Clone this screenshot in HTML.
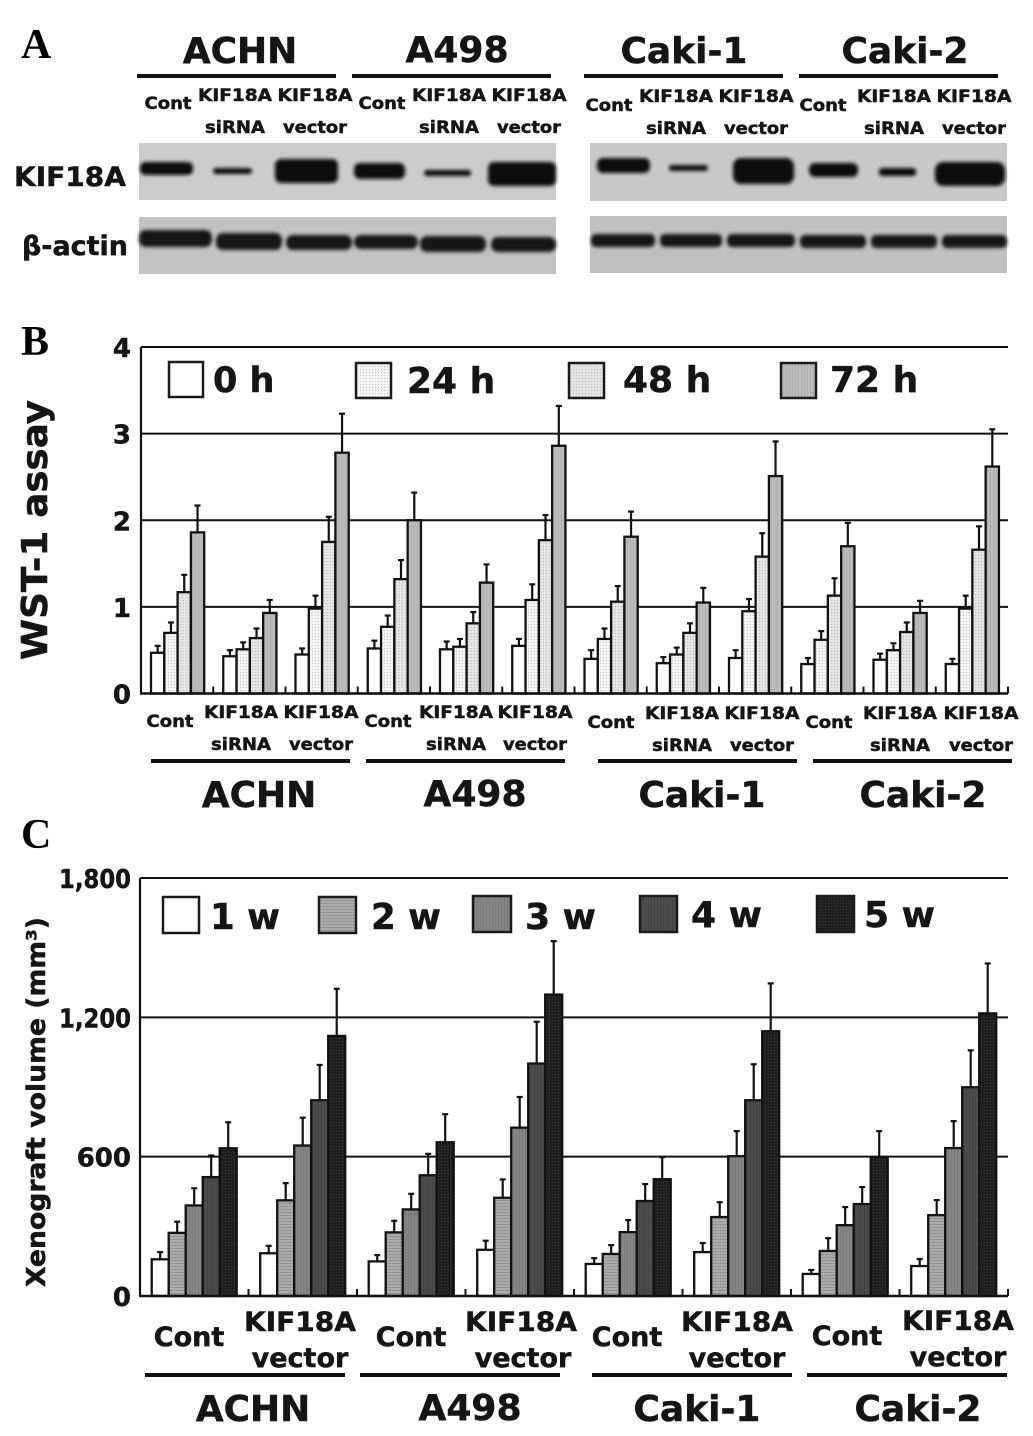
<!DOCTYPE html>
<html lang="en">
<head>
<meta charset="utf-8">
<title>KIF18A figure</title>
<style>
html,body{margin:0;padding:0;background:#fff;width:1033px;height:1436px;overflow:hidden}
svg{display:block}
text{font-family:"DejaVu Sans","Liberation Sans",sans-serif;font-weight:700;fill:#151515;stroke:#151515;stroke-width:.5px}
.letter{font-family:"Liberation Serif",serif;font-size:42px;fill:#000;stroke:none}
</style>
</head>
<body>
<svg id="fig" xmlns="http://www.w3.org/2000/svg" width="1033" height="1436" viewBox="0 0 1033 1436">
<defs>
<filter id="blurBand" x="-20%" y="-60%" width="140%" height="220%"><feGaussianBlur stdDeviation="1.8"/></filter>
<pattern id="p24" width="3" height="3" patternUnits="userSpaceOnUse"><rect width="3" height="3" fill="#f4f4f4"/><rect width="1" height="1" fill="#c4c4c4"/></pattern>
<pattern id="p48" width="3" height="3" patternUnits="userSpaceOnUse"><rect width="3" height="3" fill="#e4e4e4"/><rect width="1" height="1" fill="#bdbdbd"/></pattern>
<pattern id="p72" width="3" height="3" patternUnits="userSpaceOnUse"><rect width="3" height="3" fill="#bcbcbc"/><rect width="1" height="3" fill="#b0b0b0"/></pattern>
<pattern id="w2" width="3" height="3" patternUnits="userSpaceOnUse"><rect width="3" height="3" fill="#ababab"/><rect width="3" height="1" fill="#949494"/></pattern>
<pattern id="w3" width="3" height="3" patternUnits="userSpaceOnUse"><rect width="3" height="3" fill="#858585"/><rect width="1" height="3" fill="#7b7b7b"/></pattern>
<pattern id="w4" width="3" height="3" patternUnits="userSpaceOnUse"><rect width="3" height="3" fill="#4c4c4c"/><rect width="1" height="3" fill="#444"/></pattern>
<pattern id="w5" width="3" height="3" patternUnits="userSpaceOnUse"><rect width="3" height="3" fill="#1f1f1f"/><rect width="1" height="1" fill="#3a3a3a"/></pattern>
</defs>

<!-- Panel A -->
<g>
<text class="letter" x="21" y="58">A</text>
<g font-size="36" text-anchor="middle">
<text x="240" y="63">ACHN</text>
<text x="457" y="62">A498</text>
<text x="684" y="63">Caki-1</text>
<text x="905" y="63">Caki-2</text>
</g>
<g stroke="#111" stroke-width="4">
<line x1="137" y1="76" x2="336" y2="76"/><line x1="352" y1="76" x2="551" y2="76"/>
<line x1="584" y1="76" x2="783" y2="76"/><line x1="799" y1="76" x2="998" y2="76"/>
</g>
<g font-size="17" text-anchor="middle">
<text x="168" y="109" textLength="47" lengthAdjust="spacingAndGlyphs">Cont</text>
<text x="235" y="101" textLength="74" lengthAdjust="spacingAndGlyphs">KIF18A</text><text x="235" y="133" textLength="60" lengthAdjust="spacingAndGlyphs">siRNA</text>
<text x="315" y="101" textLength="75" lengthAdjust="spacingAndGlyphs">KIF18A</text><text x="315" y="133" textLength="64" lengthAdjust="spacingAndGlyphs">vector</text>
<text x="382" y="109" textLength="47" lengthAdjust="spacingAndGlyphs">Cont</text>
<text x="449" y="101" textLength="74" lengthAdjust="spacingAndGlyphs">KIF18A</text><text x="449" y="133" textLength="60" lengthAdjust="spacingAndGlyphs">siRNA</text>
<text x="529" y="101" textLength="75" lengthAdjust="spacingAndGlyphs">KIF18A</text><text x="529" y="133" textLength="64" lengthAdjust="spacingAndGlyphs">vector</text>
<text x="609" y="111" textLength="47" lengthAdjust="spacingAndGlyphs">Cont</text>
<text x="676" y="102" textLength="74" lengthAdjust="spacingAndGlyphs">KIF18A</text><text x="676" y="134" textLength="60" lengthAdjust="spacingAndGlyphs">siRNA</text>
<text x="756" y="102" textLength="75" lengthAdjust="spacingAndGlyphs">KIF18A</text><text x="756" y="134" textLength="64" lengthAdjust="spacingAndGlyphs">vector</text>
<text x="823" y="111" textLength="47" lengthAdjust="spacingAndGlyphs">Cont</text>
<text x="894" y="102" textLength="74" lengthAdjust="spacingAndGlyphs">KIF18A</text><text x="894" y="134" textLength="60" lengthAdjust="spacingAndGlyphs">siRNA</text>
<text x="974" y="102" textLength="75" lengthAdjust="spacingAndGlyphs">KIF18A</text><text x="974" y="134" textLength="64" lengthAdjust="spacingAndGlyphs">vector</text>
</g>
<text x="14" y="186" font-size="27" textLength="112" lengthAdjust="spacingAndGlyphs">KIF18A</text>
<text x="22" y="255" font-size="27" textLength="106" lengthAdjust="spacingAndGlyphs">β-actin</text>

<g>
<rect x="139" y="143" width="417" height="57" fill="#cbcbcb"/>
<rect x="590" y="143" width="417" height="58" fill="#c8c8c8"/>
<g fill="#101010" filter="url(#blurBand)">
<rect x="140" y="162" width="53" height="13" rx="5"/>
<rect x="213" y="168" width="39" height="6" rx="3"/>
<rect x="275" y="159" width="63" height="24" rx="6"/>
<rect x="354" y="163" width="51" height="16" rx="6"/>
<rect x="424" y="170" width="47" height="6" rx="3"/>
<rect x="488" y="162" width="68" height="24" rx="6"/>
<rect x="597" y="158" width="53" height="15" rx="6"/>
<rect x="669" y="165" width="39" height="6" rx="3"/>
<rect x="733" y="158" width="61" height="26" rx="8"/>
<rect x="809" y="163" width="49" height="14" rx="6"/>
<rect x="879" y="168" width="37" height="8" rx="3"/>
<rect x="935" y="162" width="70" height="24" rx="8"/>
</g>
</g>
<g>
<rect x="139" y="217" width="417" height="57" fill="#c2c2c2"/>
<rect x="590" y="216" width="417" height="57" fill="#c0c0c0"/>
<g fill="#151515" filter="url(#blurBand)">
<rect x="139" y="230" width="73" height="17" rx="7"/>
<rect x="216" y="233" width="66" height="17" rx="7"/>
<rect x="286" y="235" width="66" height="15" rx="7"/>
<rect x="354" y="235" width="64" height="14" rx="7"/>
<rect x="420" y="236" width="66" height="16" rx="7"/>
<rect x="491" y="237" width="65" height="15" rx="7"/>
<rect x="591" y="234" width="64" height="13" rx="5"/>
<rect x="660" y="234" width="62" height="13" rx="5"/>
<rect x="727" y="234" width="68" height="13" rx="5"/>
<rect x="800" y="235" width="66" height="13" rx="5"/>
<rect x="871" y="235" width="66" height="13" rx="5"/>
<rect x="942" y="235" width="65" height="13" rx="5"/>
</g>
</g>
</g>

<!-- Panel B -->
<g>
<text class="letter" x="21" y="355">B</text>
<text transform="translate(47,660) rotate(-90)" font-size="36" textLength="260" lengthAdjust="spacingAndGlyphs">WST-1 assay</text>
<g id="chartB"></g>
<g>
<g><rect x="169" y="362" width="34" height="35" fill="#fff" stroke="#1a1a1a" stroke-width="2.5"/><text x="213" y="392" font-size="35">0 h</text></g>
<g><rect x="356" y="363" width="35" height="35" fill="url(#p24)" stroke="#1a1a1a" stroke-width="2.5"/><text x="407" y="393" font-size="36">24 h</text></g>
<g><rect x="569" y="363" width="35" height="35" fill="url(#p48)" stroke="#1a1a1a" stroke-width="2.5"/><text x="623" y="392" font-size="36">48 h</text></g>
<g><rect x="781" y="363" width="35" height="35" fill="url(#p72)" stroke="#1a1a1a" stroke-width="2.5"/><text x="830" y="392" font-size="36">72 h</text></g>
</g>
<g font-size="17" text-anchor="middle">
<text x="170" y="727" textLength="47" lengthAdjust="spacingAndGlyphs">Cont</text>
<text x="241" y="718" textLength="74" lengthAdjust="spacingAndGlyphs">KIF18A</text><text x="241" y="750" textLength="60" lengthAdjust="spacingAndGlyphs">siRNA</text>
<text x="321" y="718" textLength="75" lengthAdjust="spacingAndGlyphs">KIF18A</text><text x="321" y="750" textLength="64" lengthAdjust="spacingAndGlyphs">vector</text>
<text x="388" y="727" textLength="47" lengthAdjust="spacingAndGlyphs">Cont</text>
<text x="456" y="718" textLength="74" lengthAdjust="spacingAndGlyphs">KIF18A</text><text x="456" y="750" textLength="60" lengthAdjust="spacingAndGlyphs">siRNA</text>
<text x="535" y="718" textLength="75" lengthAdjust="spacingAndGlyphs">KIF18A</text><text x="535" y="750" textLength="64" lengthAdjust="spacingAndGlyphs">vector</text>
<text x="611" y="728" textLength="47" lengthAdjust="spacingAndGlyphs">Cont</text>
<text x="682" y="719" textLength="74" lengthAdjust="spacingAndGlyphs">KIF18A</text><text x="682" y="751" textLength="60" lengthAdjust="spacingAndGlyphs">siRNA</text>
<text x="762" y="719" textLength="75" lengthAdjust="spacingAndGlyphs">KIF18A</text><text x="762" y="751" textLength="64" lengthAdjust="spacingAndGlyphs">vector</text>
<text x="829" y="728" textLength="47" lengthAdjust="spacingAndGlyphs">Cont</text>
<text x="900" y="719" textLength="74" lengthAdjust="spacingAndGlyphs">KIF18A</text><text x="900" y="751" textLength="60" lengthAdjust="spacingAndGlyphs">siRNA</text>
<text x="981" y="719" textLength="75" lengthAdjust="spacingAndGlyphs">KIF18A</text><text x="981" y="751" textLength="64" lengthAdjust="spacingAndGlyphs">vector</text>
</g>
<g stroke="#111" stroke-width="4">
<line x1="151" y1="761" x2="350" y2="761"/><line x1="366" y1="761" x2="565" y2="761"/>
<line x1="598" y1="761" x2="797" y2="761"/><line x1="813" y1="761" x2="1012" y2="761"/>
</g>
<g font-size="36" text-anchor="middle">
<text x="259" y="807">ACHN</text><text x="475" y="806">A498</text><text x="702" y="807">Caki-1</text><text x="923" y="807">Caki-2</text>
</g>
</g>

<!-- Panel C -->
<g>
<text class="letter" x="21" y="848">C</text>
<text transform="translate(45,1287) rotate(-90)" font-size="26" textLength="370" lengthAdjust="spacingAndGlyphs">Xenograft volume (mm³)</text>
<g id="chartC"></g>
<g>
<g><rect x="163" y="897" width="36" height="36" fill="#fff" stroke="#1a1a1a" stroke-width="2.5"/><text x="210" y="929" font-size="36" textLength="70" lengthAdjust="spacingAndGlyphs">1 w</text></g>
<g><rect x="319" y="897" width="37" height="36" fill="url(#w2)" stroke="#1a1a1a" stroke-width="2.5"/><text x="371" y="929" font-size="36" textLength="70" lengthAdjust="spacingAndGlyphs">2 w</text></g>
<g><rect x="473" y="896" width="38" height="36" fill="url(#w3)" stroke="#1a1a1a" stroke-width="2.5"/><text x="525" y="929" font-size="36" textLength="71" lengthAdjust="spacingAndGlyphs">3 w</text></g>
<g><rect x="640" y="896" width="37" height="36" fill="url(#w4)" stroke="#1a1a1a" stroke-width="2.5"/><text x="691" y="927" font-size="36" textLength="71" lengthAdjust="spacingAndGlyphs">4 w</text></g>
<g><rect x="817" y="896" width="37" height="36" fill="url(#w5)" stroke="#1a1a1a" stroke-width="2.5"/><text x="864" y="927" font-size="36" textLength="71" lengthAdjust="spacingAndGlyphs">5 w</text></g>
</g>
<g font-size="27" text-anchor="middle">
<text x="189" y="1346">Cont</text><text x="300" y="1331" textLength="112" lengthAdjust="spacingAndGlyphs">KIF18A</text><text x="300" y="1367">vector</text>
<text x="411" y="1346">Cont</text><text x="521" y="1331" textLength="112" lengthAdjust="spacingAndGlyphs">KIF18A</text><text x="523" y="1367">vector</text>
<text x="627" y="1346">Cont</text><text x="737" y="1331" textLength="112" lengthAdjust="spacingAndGlyphs">KIF18A</text><text x="737" y="1367">vector</text>
<text x="847" y="1345">Cont</text><text x="958" y="1330" textLength="112" lengthAdjust="spacingAndGlyphs">KIF18A</text><text x="958" y="1366">vector</text>
</g>
<g stroke="#111" stroke-width="4">
<line x1="145" y1="1375" x2="345" y2="1375"/><line x1="360" y1="1375" x2="560" y2="1375"/>
<line x1="592" y1="1375" x2="792" y2="1375"/><line x1="807" y1="1375" x2="1007" y2="1375"/>
</g>
<g font-size="36" text-anchor="middle">
<text x="253" y="1421">ACHN</text><text x="470" y="1420">A498</text><text x="697" y="1421">Caki-1</text><text x="918" y="1421">Caki-2</text>
</g>
</g>

<script>
// Panel B data
const wstCategories = ['ACHN Cont','ACHN siRNA','ACHN vector','A498 Cont','A498 siRNA','A498 vector','Caki-1 Cont','Caki-1 siRNA','Caki-1 vector','Caki-2 Cont','Caki-2 siRNA','Caki-2 vector'];
const wstTicks = [0,1,2,3,4];
const wstSeriesNames = ['0h','24h','48h','72h'];
const wst0h  = [0.47,0.43,0.45,0.52,0.51,0.55,0.40,0.35,0.41,0.34,0.39,0.34];
const wst24h = [0.70,0.51,0.98,0.77,0.54,1.08,0.63,0.45,0.95,0.62,0.50,0.98];
const wst48h = [1.17,0.64,1.75,1.32,0.81,1.77,1.06,0.70,1.58,1.13,0.71,1.66];
const wst72h = [1.86,0.93,2.78,2.00,1.28,2.86,1.81,1.05,2.51,1.70,0.93,2.62];
const wstErr0h  = [0.55,0.50,0.52,0.61,0.60,0.63,0.50,0.42,0.50,0.41,0.46,0.40];
const wstErr24h = [0.82,0.59,1.13,0.90,0.63,1.26,0.75,0.53,1.09,0.72,0.58,1.13];
const wstErr48h = [1.37,0.75,2.04,1.54,0.94,2.06,1.24,0.81,1.85,1.33,0.82,1.93];
const wstErr72h = [2.17,1.08,3.23,2.32,1.49,3.32,2.10,1.22,2.91,1.97,1.07,3.05];

// Panel C data
const volCategories = ['ACHN Cont','ACHN vector','A498 Cont','A498 vector','Caki-1 Cont','Caki-1 vector','Caki-2 Cont','Caki-2 vector'];
const volTicks = [0,600,1200,1800];
const volTickLabels = ['0','600','1,200','1,800'];
const volSeriesNames = ['1w','2w','3w','4w','5w'];
const vol1w = [158,184,149,199,138,189,95,129];
const vol2w = [272,412,274,423,181,340,194,348];
const vol3w = [390,648,373,725,275,602,305,637];
const vol4w = [512,843,520,1001,409,843,396,899];
const vol5w = [636,1120,662,1298,503,1140,598,1217];
const volErr1w = [189,216,176,238,163,228,112,159];
const volErr2w = [320,486,324,502,219,404,249,413];
const volErr3w = [464,768,440,857,327,710,383,753];
const volErr4w = [605,995,612,1181,482,998,469,1058];
const volErr5w = [748,1323,783,1528,598,1346,710,1432];

const SVGNS = 'http://www.w3.org/2000/svg';
function mk(parent, tag, attrs, txt) {
  const el = document.createElementNS(SVGNS, tag);
  for (const k in attrs) el.setAttribute(k, attrs[k]);
  if (txt !== undefined) el.textContent = txt;
  parent.appendChild(el);
  return el;
}

function drawChart(cfg) {
  const root = document.getElementById(cfg.id);
  const y = v => cfg.y0 - (v / cfg.yMax) * (cfg.y0 - cfg.yTop);
  const xBar = (g, s) => cfg.x0 + cfg.groupW * g + cfg.offset + cfg.barW * s;

  cfg.ticks.forEach((t, i) => {
    if (t !== 0) {
      const grid = mk(root, 'line', {x1: cfg.x0, x2: cfg.x1, y1: y(t), y2: y(t), stroke: '#111', 'stroke-width': 2});
      
      
    }
    const attrs = {x: 131, y: y(t) + 10, 'text-anchor': 'end', 'font-size': 26};
    if (cfg.tickLabels[i].indexOf(',') >= 0) { attrs.textLength = 72; attrs.lengthAdjust = 'spacingAndGlyphs'; }
    const label = mk(root, 'text', attrs, cfg.tickLabels[i]);
    
    
  });

  const axisY = mk(root, 'line', {x1: cfg.x0, x2: cfg.x0, y1: cfg.yTop, y2: cfg.y0, stroke: '#111', 'stroke-width': 2.2});
  
  

  for (let g = 1; g <= cfg.categories.length; g++) {
    const tx = cfg.x0 + cfg.groupW * g;
    const tick = mk(root, 'line', {x1: tx, x2: tx, y1: cfg.y0 - 7, y2: cfg.y0, stroke: '#111', 'stroke-width': 2});
    
    
  }

  cfg.categories.forEach((cat, g) => {
    cfg.series.forEach((vals, s) => {
      const cx = xBar(g, s) + cfg.barW / 2;
      const err = mk(root, 'line', {x1: cx, x2: cx, y1: y(vals[g]), y2: y(cfg.errs[s][g]), stroke: '#111', 'stroke-width': 2.2});
      
      
      const cap = mk(root, 'line', {x1: cx - 3, x2: cx + 3, y1: y(cfg.errs[s][g]), y2: y(cfg.errs[s][g]), stroke: '#111', 'stroke-width': 2.2});
      
      
    });
    cfg.series.forEach((vals, s) => {
      const bar = mk(root, 'rect', {x: xBar(g, s), y: y(vals[g]), width: cfg.barW, height: cfg.y0 - y(vals[g]), fill: cfg.fills[s], stroke: '#111', 'stroke-width': 2.3});
      
      
    });
  });

  const axisX = mk(root, 'line', {x1: cfg.x0 - 1, x2: cfg.x1, y1: cfg.y0, y2: cfg.y0, stroke: '#111', 'stroke-width': 2.4});
  
  
}

drawChart({
  id: 'chartB', x0: 141, x1: 1008, y0: 693.5, yTop: 347, yMax: 4,
  groupW: 72.25, offset: 10, barW: 13.3,
  categories: wstCategories, ticks: wstTicks, tickLabels: wstTicks.map(String),
  names: wstSeriesNames,
  series: [wst0h, wst24h, wst48h, wst72h],
  errs: [wstErr0h, wstErr24h, wstErr48h, wstErr72h],
  fills: ['#fff', 'url(#p24)', 'url(#p48)', 'url(#p72)']
});

drawChart({
  id: 'chartC', x0: 140, x1: 1008, y0: 1296, yTop: 878, yMax: 1800,
  groupW: 108.5, offset: 11.7, barW: 17,
  categories: volCategories, ticks: volTicks, tickLabels: volTickLabels,
  names: volSeriesNames,
  series: [vol1w, vol2w, vol3w, vol4w, vol5w],
  errs: [volErr1w, volErr2w, volErr3w, volErr4w, volErr5w],
  fills: ['#fff', 'url(#w2)', 'url(#w3)', 'url(#w4)', 'url(#w5)']
});
</script>
</svg>
</body>
</html>
